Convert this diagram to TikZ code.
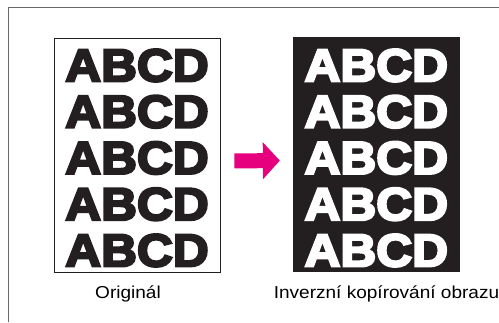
\documentclass[tikz,border=0pt]{standalone}
\usepackage{fontspec}
\setmainfont{Liberation Sans}
\newfontfamily\heavyfont{Liberation Sans Bold}[FakeBold=5,FakeStretch=1.08]
\newfontfamily\labelfont{Liberation Sans}[FakeStretch=1.1]
\usetikzlibrary{arrows.meta,positioning}
\definecolor{framegray}{RGB}{105,105,105}
\definecolor{copypink}{RGB}{230,0,126}
\definecolor{inkblack}{RGB}{35,31,32}

\begin{document}
\begin{tikzpicture}[
    x=1pt, y=-1pt,
    sheet/.style={draw=inkblack, line width=0.9pt, minimum width=166pt, minimum height=234pt, inner sep=0pt},
    plainsheet/.style={sheet, fill=white},
    invsheet/.style={sheet, fill=inkblack},
    letters/.style={inner sep=0pt, font=\heavyfont\fontsize{46}{50}\selectfont},
    caption/.style={anchor=base, inner sep=0pt, font=\labelfont\fontsize{17.3}{20}\selectfont},
    pinkarrow/.style={copypink, line width=15pt, -{Triangle[length=17pt, width=36pt]}, shorten <=14pt, shorten >=13pt}
]
\useasboundingbox (0,0) rectangle (499,322);
\draw[framegray, line width=1.2pt] (8.5,322) -- (8.5,7.5) -- (499,7.5);

\node[plainsheet] (orig) at (137,155) {};
\node[invsheet] (inv) at (376.3,154.5) {};

\foreach \row [count=\k] in {65.5,111.75,158,204.25,250.5} {
  \node[letters, text=inkblack] (orig\k) at (137,\row) {ABCD};
  \node[letters, text=white] (inv\k) at (376.3,\row) {ABCD};
}

\node[caption] (origlabel) at (128,298.7) {Originál};
\node[caption] (invlabel) at (386.5,298.7) {Inverzní kopírování obrazu};

\draw[pinkarrow] ([yshift=-6pt]orig.east) -- ([yshift=-6pt]inv.west);
\end{tikzpicture}
\end{document}
